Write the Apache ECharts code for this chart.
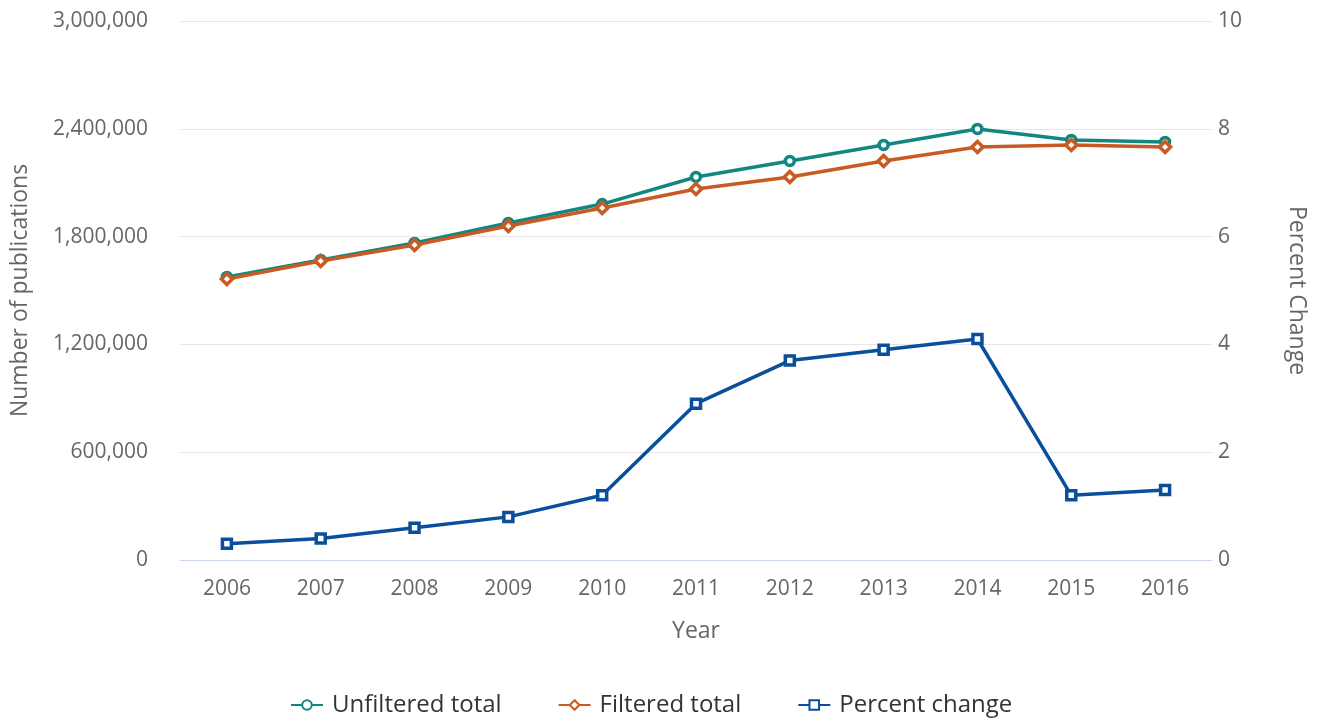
<!DOCTYPE html>
<html lang="en">
<head>
  <meta charset="UTF-8">
  <title>Publications</title>
  <style>
    html, body { margin: 0; padding: 0; background: #fff; }
    #chart { width: 1318px; height: 719px; }
  </style>
</head>
<body>
  <div id="chart"></div>
  <script src="https://cdn.jsdelivr.net/npm/echarts@6/dist/echarts.min.js"></script>
  <script>
    var years = ['2006', '2007', '2008', '2009', '2010', '2011', '2012', '2013', '2014', '2015', '2016']
    var unfiltered = [1575000, 1670000, 1765000, 1876000, 1981000, 2132000, 2221000, 2310000, 2399000, 2338000, 2327000]
    var filtered = [1564000, 1664000, 1753000, 1859000, 1959000, 2065000, 2132000, 2221000, 2299000, 2310000, 2299000]
    var pctChange = [0.3, 0.4, 0.6, 0.8, 1.2, 2.9, 3.7, 3.9, 4.1, 1.2, 1.3]

    var font = '"Open Sans", "Noto Sans", sans-serif'
    var myChart = echarts.init(document.getElementById('chart'))

    function lineSeries(name, data, color, symbol, axisIdx) {
      return {
        name: name,
        type: 'line',
        yAxisIndex: axisIdx,
        data: data,
        symbol: symbol,
        symbolSize: symbol === 'diamond' ? 11 : 9,
        showAllSymbol: true,
        lineStyle: { color: color, width: 3.5 },
        itemStyle: { color: '#fff', borderColor: color, borderWidth: 3.5 },
        emphasis: { disabled: true }
      }
    }

    var option = {
      animation: false,
      textStyle: { fontFamily: font },
      grid: { left: 180, right: 106, top: 21, bottom: 159, outerBoundsMode: 'none', containLabel: false },
      legend: {
        bottom: -3,
        left: 285,
        itemGap: 56,
        itemWidth: 32,
        itemHeight: 12,
        textStyle: { fontSize: 24, color: '#333', fontFamily: font, padding: [0, 0, 0, 4] },
        data: ['Unfiltered total', 'Filtered total', 'Percent change']
      },
      xAxis: {
        type: 'category',
        data: years,
        name: 'Year',
        nameLocation: 'middle',
        nameGap: 60,
        nameTextStyle: { fontSize: 23, color: '#666' },
        axisLine: { lineStyle: { color: '#ccd6eb', width: 1 } },
        axisTick: { alignWithLabel: true, length: 10, lineStyle: { color: '#ccd6eb' } },
        axisLabel: { fontSize: 21, color: '#666', margin: 19 }
      },
      yAxis: [
        {
          type: 'value',
          min: 0,
          max: 3000000,
          interval: 600000,
          name: 'Number of publications',
          nameLocation: 'middle',
          nameGap: 148,
          nameTextStyle: { fontSize: 23, color: '#666' },
          axisLine: { show: false },
          axisTick: { show: false },
          axisLabel: {
            fontSize: 21, color: '#666', margin: 32,
            formatter: function (v) { return v.toLocaleString('en-US') }
          },
          splitLine: { lineStyle: { color: '#e6e6e6', width: 1 } }
        },
        {
          type: 'value',
          min: 0,
          max: 10,
          interval: 2,
          name: 'Percent Change',
          nameLocation: 'middle',
          nameRotate: -90,
          nameGap: 73,
          nameTextStyle: { fontSize: 23, color: '#666' },
          axisLine: { show: false },
          axisTick: { show: false },
          axisLabel: { fontSize: 21, color: '#666', margin: 6 },
          splitLine: { show: false }
        }
      ],
      series: [
        lineSeries('Unfiltered total', unfiltered, '#12877f', 'circle', 0),
        lineSeries('Filtered total', filtered, '#c95a24', 'diamond', 0),
        lineSeries('Percent change', pctChange, '#0b4f9c', 'rect', 1)
      ]
    }
    myChart.setOption(option)
  </script>
</body>
</html>
